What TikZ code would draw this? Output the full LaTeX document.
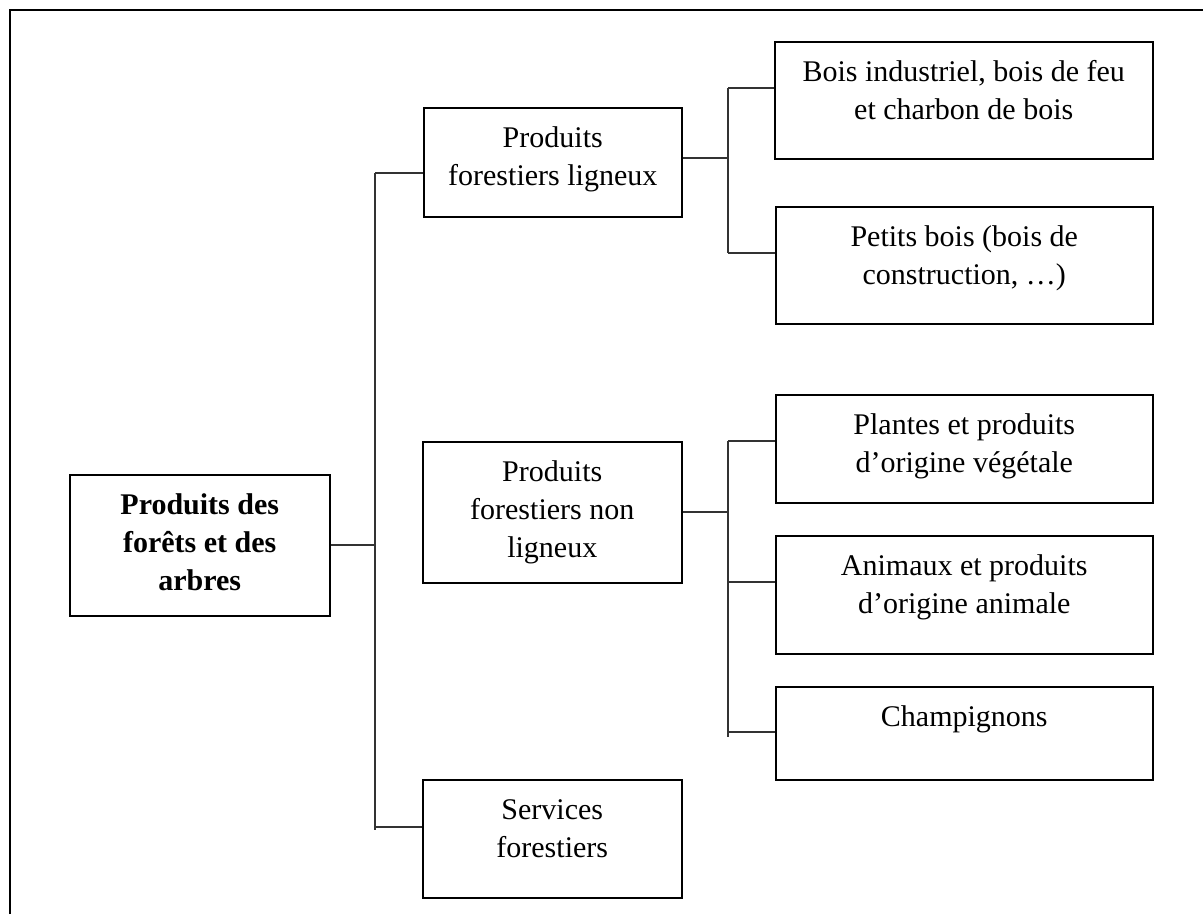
\documentclass[tikz,border=0pt]{standalone}
\usepackage{fontspec}
\setmainfont{Liberation Serif}
\newcommand\boxtext[3]{\parbox[c][#2][t]{#1}{\centering\fontsize{30}{38}\selectfont\rule{0pt}{40pt}#3\par}}
\tikzset{
  box/.style={draw=black, line width=1.5pt, inner sep=0pt, anchor=north west, fill=white},
  conn/.style={draw=black!80, line width=1.6pt},
  frame/.style={draw=black, line width=2pt},
}
\begin{document}
\begin{tikzpicture}[x=1pt,y=-1pt]
\useasboundingbox (0,0) rectangle (1203,914);
\draw[frame] (10,914) -- (10,10) -- (1203,10);
% boxes
\node[box] (root) at (69,474) {\boxtext{260pt}{141pt}{\bfseries Produits des\\forêts et des\\arbres}};
\node[box] (pfl) at (423,107) {\boxtext{258pt}{109pt}{Produits\\forestiers ligneux}};
\node[box] (pfnl) at (422,441) {\boxtext{259pt}{141pt}{Produits\\forestiers non\\ligneux}};
\node[box] (serv) at (422,779) {\boxtext{259pt}{118pt}{Services\\forestiers}};
\node[box] (bois) at (774,41) {\boxtext{378pt}{117pt}{Bois industriel, bois de feu\\et charbon de bois}};
\node[box] (petits) at (775,206) {\boxtext{377pt}{117pt}{Petits bois (bois de\\construction, …)}};
\node[box] (plantes) at (775,394) {\boxtext{377pt}{108pt}{Plantes et produits\\d’origine végétale}};
\node[box] (animaux) at (775,535) {\boxtext{377pt}{118pt}{Animaux et produits\\d’origine animale}};
\node[box] (champ) at (775,686) {\boxtext{377pt}{93pt}{Champignons}};
% main bus
\coordinate (bt) at (375,173);
\coordinate (bb) at (375,830);
\coordinate (bs) at (375,827);
\draw[conn] (bt) -- (bb);
\draw[conn] (root.east) -- (root.east -| bt);
\draw[conn] (bt) -- (bt -| pfl.west);
\draw[conn] (bs) -- (bs -| serv.west);
% sub bus 1
\coordinate (s1t) at (728,88);
\coordinate (s1m) at (728,158);
\coordinate (s1b) at (728,253);
\draw[conn] (s1t) -- (s1b);
\draw[conn] (pfl.east |- s1m) -- (s1m);
\draw[conn] (s1t) -- (s1t -| bois.west);
\draw[conn] (s1b) -- (s1b -| petits.west);
% sub bus 2
\coordinate (s2t) at (728,441);
\coordinate (s2a) at (728,582);
\coordinate (s2c) at (728,732);
\coordinate (s2b) at (728,737);
\draw[conn] (s2t) -- (s2b);
\draw[conn] (pfnl.east) -- (pfnl.east -| s2t);
\draw[conn] (s2t) -- (s2t -| plantes.west);
\draw[conn] (s2a) -- (s2a -| animaux.west);
\draw[conn] (s2c) -- (s2c -| champ.west);
\end{tikzpicture}
\end{document}
